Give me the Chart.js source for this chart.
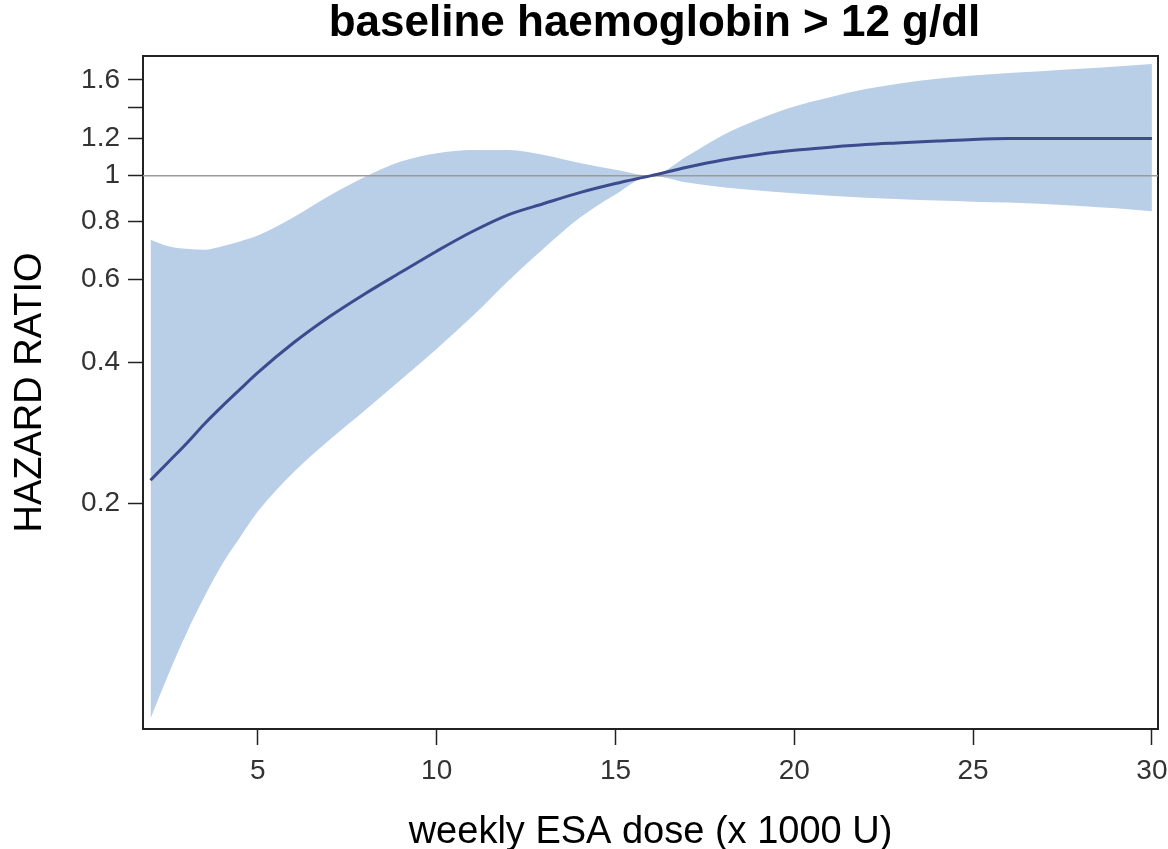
<!DOCTYPE html>
<html>
<head>
<meta charset="utf-8">
<script src="https://cdn.jsdelivr.net/npm/chart.js@4.4.1/dist/chart.umd.min.js"></script>
<style>
  body { margin: 0; background: #fff; }
  #wrap { width: 1168px; height: 849px; }
</style>
</head>
<body>
<div id="wrap"><canvas id="hrChart"></canvas></div>
<script>
// weekly ESA dose (x 1000 U)
const dose  = [2, 2.5, 3, 3.5, 4, 4.5, 5, 6, 7, 8, 9, 10, 11, 12, 13, 14, 15, 16, 17, 18, 19, 20, 21, 22, 23, 24, 25, 26, 27, 28, 29, 30];
// hazard ratio estimate
const hr    = [0.224, 0.245, 0.268, 0.295, 0.322, 0.35, 0.38, 0.44, 0.50, 0.56, 0.622, 0.69, 0.76, 0.825, 0.872, 0.92, 0.962, 1.0,
               1.042, 1.08, 1.11, 1.133, 1.15, 1.165, 1.175, 1.185, 1.195, 1.2, 1.2, 1.2, 1.2, 1.2];
// 95% confidence band
const lower = [0.0695, 0.0863, 0.1054, 0.126, 0.148, 0.169, 0.192, 0.233, 0.273, 0.316, 0.367, 0.427, 0.501, 0.596, 0.70, 0.813, 0.912, 1.0,
               0.967, 0.945, 0.93, 0.917, 0.906, 0.897, 0.891, 0.885, 0.88, 0.876, 0.87, 0.862, 0.852, 0.84];
const upper = [0.73, 0.707, 0.698, 0.695, 0.707, 0.724, 0.745, 0.815, 0.906, 0.995, 1.072, 1.117, 1.135, 1.135, 1.107, 1.064, 1.03, 1.0,
               1.10, 1.22, 1.32, 1.405, 1.47, 1.53, 1.575, 1.61, 1.635, 1.655, 1.672, 1.69, 1.71, 1.73];

const xTicks = [5, 10, 15, 20, 25, 30];
const yTicks = [0.2, 0.4, 0.6, 0.8, 1, 1.2, 1.4, 1.6];
const yLabelled = [0.2, 0.4, 0.6, 0.8, 1, 1.2, 1.6];
const xMin = 1.79, xMax = 30.17;
const yMin = 0.066, yMax = 1.80;
const refValue = 1;

const pts = (ys) => dose.map((d, i) => ({ x: d, y: ys[i] }));

const bandColor = '#b9cee7';
const lineColor = '#3d4a8e';
const fontFamily = '"Liberation Sans", Arial, sans-serif';

// frame round the plot and the title over it
const framePlugin = {
    id: 'frame',
    beforeDatasetsDraw(chart) {
        const { ctx, chartArea: a } = chart;
        ctx.save();
        ctx.strokeStyle = '#222';
        ctx.lineWidth = 2;
        ctx.strokeRect(a.left, a.top, a.right - a.left, a.bottom - a.top);
        ctx.restore();
    },
    afterDraw(chart) {
        const { ctx, chartArea: a } = chart;
        ctx.save();
        ctx.fillStyle = '#000';
        ctx.font = 'bold 44px ' + fontFamily;
        ctx.textAlign = 'center';
        ctx.textBaseline = 'alphabetic';
        ctx.fillText('baseline haemoglobin > 12 g/dl', (a.left + a.right) / 2 + 4, 36);
        ctx.restore();
    }
};

const ctx = document.getElementById('hrChart').getContext('2d');
new Chart(ctx, {
    type: 'line',
    data: {
        datasets: [
            {
                label: 'Hazard ratio',
                data: pts(hr),
                borderColor: lineColor,
                borderWidth: 3,
                pointRadius: 0,
                cubicInterpolationMode: 'monotone',
                fill: false
            },
            {
                label: 'Reference',
                data: [{ x: xMin, y: refValue }, { x: xMax, y: refValue }],
                borderColor: '#9a9a9a',
                borderWidth: 1.5,
                pointRadius: 0,
                fill: false
            },
            {
                label: 'Upper',
                data: pts(upper),
                borderWidth: 0,
                borderColor: 'rgba(0,0,0,0)',
                backgroundColor: bandColor,
                pointRadius: 0,
                cubicInterpolationMode: 'monotone',
                fill: 3
            },
            {
                label: 'Lower',
                data: pts(lower),
                borderWidth: 0,
                borderColor: 'rgba(0,0,0,0)',
                pointRadius: 0,
                cubicInterpolationMode: 'monotone',
                fill: false
            }
        ]
    },
    options: {
        responsive: true,
        maintainAspectRatio: false,
        animation: false,
        layout: { padding: { top: 56, right: 10, left: 0, bottom: 0 } },
        plugins: {
            legend: { display: false },
            tooltip: { enabled: false },
            title: { display: false }
        },
        scales: {
            x: {
                type: 'linear',
                min: xMin,
                max: xMax,
                afterBuildTicks: (scale) => { scale.ticks = xTicks.map(v => ({ value: v })); },
                afterFit: (scale) => {
                    scale.height = 120;
                    scale.paddingLeft = 0;
                    scale.paddingRight = 0;
                },
                border: { display: true, color: '#222', width: 2 },
                grid: { drawOnChartArea: false, drawTicks: true, tickLength: 16, tickColor: '#222', tickWidth: 1.5 },
                ticks: {
                    color: '#333',
                    padding: 9,
                    maxRotation: 0,
                    font: { family: fontFamily, size: 28 }
                },
                title: {
                    display: true,
                    text: 'weekly ESA dose (x 1000 U)',
                    color: '#000',
                    padding: { top: 0, bottom: -6 },
                    font: { family: fontFamily, size: 38 }
                }
            },
            y: {
                type: 'logarithmic',
                min: yMin,
                max: yMax,
                afterBuildTicks: (scale) => { scale.ticks = yTicks.map(v => ({ value: v })); },
                afterFit: (scale) => { scale.width = 143; },
                border: { display: true, color: '#222', width: 2 },
                grid: { drawOnChartArea: false, drawTicks: true, tickLength: 15, tickColor: '#222', tickWidth: 1.5 },
                ticks: {
                    color: '#333',
                    padding: 8,
                    autoSkip: false,
                    font: { family: fontFamily, size: 28 },
                    callback: (v) => yLabelled.includes(v) ? String(v) : ''
                },
                title: {
                    display: true,
                    text: 'HAZARD RATIO',
                    color: '#000',
                    padding: { top: 8, bottom: 0 },
                    font: { family: fontFamily, size: 38 }
                }
            }
        }
    },
    plugins: [framePlugin]
});
</script>
</body>
</html>
